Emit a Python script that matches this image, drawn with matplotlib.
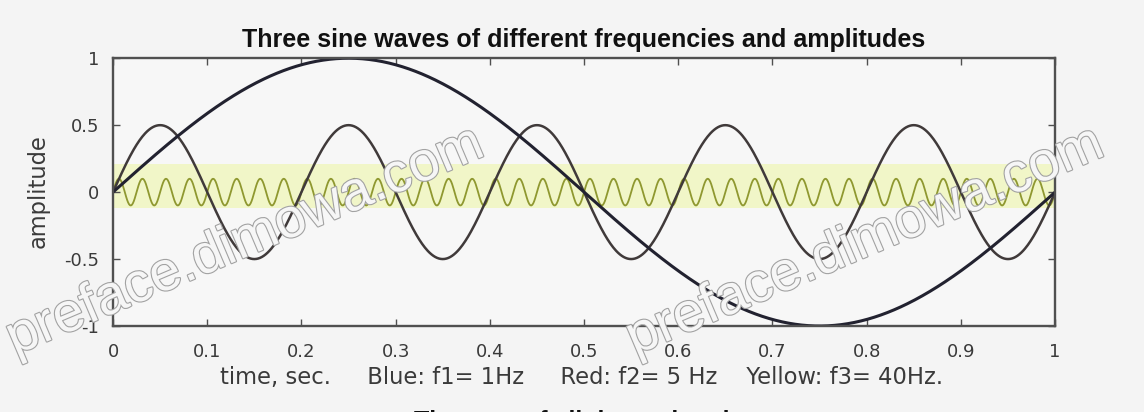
import numpy as np
import matplotlib

matplotlib.use("Agg")
import matplotlib.pyplot as plt
import matplotlib.patheffects as pe

# ── Data ─────────────────────────────────────────────────────────────────────
FREQS_HZ = [1, 5, 40]          # Blue, Red, Yellow
AMPLITUDES = [1.0, 0.5, 0.1]
DURATION_S = 1.0
N_SAMPLES = 1001

XTICKS = [0, 0.1, 0.2, 0.3, 0.4, 0.5, 0.6, 0.7, 0.8, 0.9, 1]
XTICK_LABELS = ["0", "0.1", "0.2", "0.3", "0.4", "0.5", "0.6", "0.7", "0.8", "0.9", "1"]
YTICKS = [-1, -0.5, 0, 0.5, 1]
YTICK_LABELS = ["-1", "-0.5", "0", "0.5", "1"]

TITLE = "Three sine waves of different frequencies and amplitudes"
XLABEL = "time, sec.     Blue: f1= 1Hz     Red: f2= 5 Hz    Yellow: f3= 40Hz."
YLABEL = "amplitude"
NEXT_TITLE = "The sum of all three signals"
WATERMARK = "preface.dimowa.com"

# ── Styling ─────────────────────────────────────────────────────────────────
FIG_BG = "#f4f4f4"
AX_BG = "#f7f7f7"
LINE_COLORS = ["#222230", "#403a3a", "#8f9830"]
LINE_WIDTHS = [2.2, 1.8, 1.3]
TEXT = "#3a3a3a"
SPINE = "#505050"
WIDE = ["DejaVu Sans"]

plt.rcParams["font.family"] = ["Liberation Sans", "DejaVu Sans"]

fig = plt.figure(figsize=(11.44, 4.12), dpi=100, facecolor=FIG_BG)
ax = fig.add_axes([0.0988, 0.2087, 0.8235, 0.650])
ax.set_facecolor(AX_BG)

# pale chroma halo around the 40 Hz trace, as in the source image
ax.axhspan(-0.12, 0.21, color="#f1f6c8", zorder=0, lw=0)

t = np.linspace(0, DURATION_S, N_SAMPLES)
for f, a, c, lw in zip(FREQS_HZ[::-1], AMPLITUDES[::-1], LINE_COLORS[::-1], LINE_WIDTHS[::-1]):
    ax.plot(t, a * np.sin(2 * np.pi * f * t), color=c, lw=lw, zorder=2)

ax.set_xlim(0, 1)
ax.set_ylim(-1, 1)
ax.set_xticks(XTICKS, XTICK_LABELS)
ax.set_yticks(YTICKS, YTICK_LABELS)
ax.tick_params(direction="in", top=True, right=True, length=5, width=1,
               color=SPINE, labelcolor=TEXT, labelsize=13)
ax.tick_params(axis="x", pad=12)
ax.tick_params(axis="y", pad=10)
for lab in ax.get_xticklabels() + ax.get_yticklabels():
    lab.set_family(WIDE)
for s in ax.spines.values():
    s.set_color(SPINE)
    s.set_linewidth(1.7)

ax.set_title(TITLE, fontsize=18, fontweight="bold", color="#111111", pad=8)
ax.set_xlabel(XLABEL, fontsize=16.3, family=WIDE, color=TEXT, ha="left", va="center")
ax.xaxis.set_label_coords(0.1136, -0.194)
ax.set_ylabel(YLABEL, fontsize=16.3, family=WIDE, color=TEXT, va="center")
ax.yaxis.set_label_coords(-0.0796, 0.504)

# title of the next subplot, cut off by the bottom edge
fig.text(0.506, 0.006, NEXT_TITLE, fontsize=18, fontweight="bold",
         color="#111111", ha="center", va="top")

# watermarks
wm = [pe.withStroke(linewidth=1.6, foreground="#a2a2a2")]
for x0 in (0.013, 0.555):
    fig.text(x0, 0.138, WATERMARK, fontsize=40, color="#f6f6f6", rotation=23,
             ha="left", va="baseline", rotation_mode="anchor",
             path_effects=wm, zorder=5)

fig.savefig("out.png", dpi=100, facecolor=FIG_BG)
